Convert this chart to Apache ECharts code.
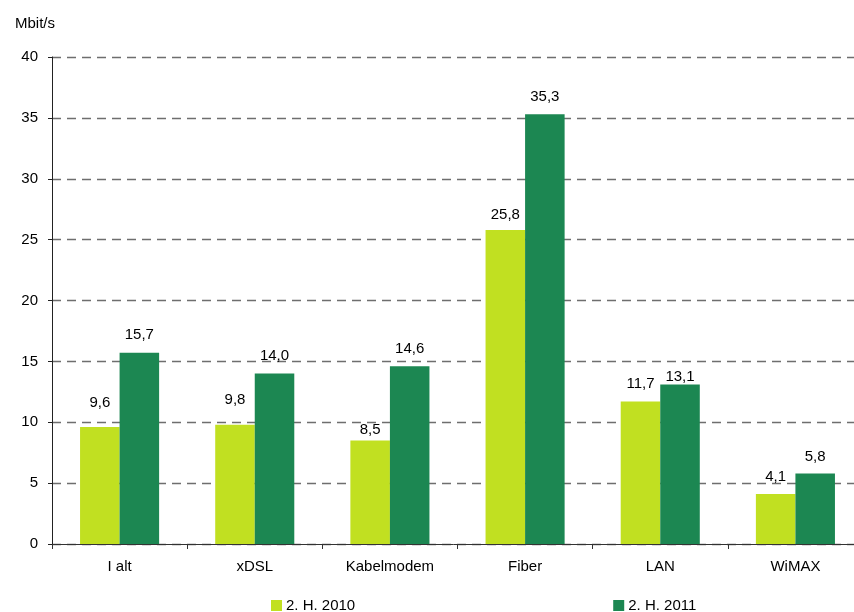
<!DOCTYPE html>
<html>
<head>
<meta charset="utf-8">
<script src="https://cdn.jsdelivr.net/npm/echarts@6/dist/echarts.min.js"></script>
<style>
  html, body { margin: 0; padding: 0; background: #ffffff; }
  #chart { width: 854px; height: 612px; }
</style>
</head>
<body>
<div id="chart"></div>
<script>
// data
const categories = ['I alt', 'xDSL', 'Kabelmodem', 'Fiber', 'LAN', 'WiMAX'];
const h2010 = [9.6, 9.8, 8.5, 25.8, 11.7, 4.1];
const h2011 = [15.7, 14.0, 14.6, 35.3, 13.1, 5.8];
const seriesNames = ['2. H. 2010', '2. H. 2011'];
const yTicks = [0, 5, 10, 15, 20, 25, 30, 35, 40];

// label gaps above bars (styling only)
const gap2010 = [17, 17, 3, 8, 10, 10];
const gap2011 = [10, 10, 10, 10, 0, 9];

const FONT = '"Liberation Sans", Arial, sans-serif';
const FS = 15;
const fmt = v => v.toFixed(1).replace('.', ',');

function withLabels(values, gaps) {
  return values.map((v, i) => ({
    value: v,
    label: { distance: gaps[i] }
  }));
}

const barLabel = {
  show: true,
  position: 'top',
  color: '#000',
  fontSize: FS,
  fontFamily: FONT,
  formatter: p => fmt(p.value)
};

const option = {
  backgroundColor: '#ffffff',
  animation: false,
  textStyle: { fontFamily: FONT },
  title: {
    text: 'Mbit/s',
    left: 10,
    top: 11,
    textStyle: { fontFamily: FONT, fontSize: FS, fontWeight: 'normal', color: '#000' }
  },
  legend: {
    left: 266,
    top: 593,
    itemWidth: 11,
    itemHeight: 11,
    itemGap: 258,
    icon: 'rect',
    textStyle: { fontFamily: FONT, fontSize: FS, color: '#000', padding: [0, 0, 0, -1] },
    data: seriesNames
  },
  grid: {
    left: 52,
    top: 57,
    width: 811,
    height: 487,
    outerBoundsMode: 'none',
    containLabel: false
  },
  xAxis: {
    type: 'category',
    data: categories,
    axisLine: { lineStyle: { color: '#333', width: 1 } },
    axisTick: { show: true, length: 5, lineStyle: { color: '#333' } },
    axisLabel: { color: '#000', fontSize: FS, margin: 15, fontFamily: FONT }
  },
  yAxis: {
    type: 'value',
    min: yTicks[0],
    max: yTicks[yTicks.length - 1],
    interval: 5,
    axisLine: { show: true, lineStyle: { color: '#222', width: 1 } },
    axisTick: { show: true, length: 4, lineStyle: { color: '#222' } },
    axisLabel: { color: '#000', fontSize: FS, margin: 14, fontFamily: FONT },
    splitLine: {
      show: true,
      lineStyle: { color: '#6e6e6e', width: 1.3, type: [9, 6] }
    }
  },
  series: [{
    name: seriesNames[0],
    type: 'bar',
    barGap: '0%',
    barCategoryGap: '41.5%',
    itemStyle: { color: '#c1e021' },
    label: barLabel,
    data: withLabels(h2010, gap2010)
  }, {
    name: seriesNames[1],
    type: 'bar',
    barGap: '0%',
    barCategoryGap: '41.5%',
    itemStyle: { color: '#1c8752' },
    label: barLabel,
    data: withLabels(h2011, gap2011)
  }]
};

const chart = echarts.init(document.getElementById('chart'));
chart.setOption(option);
</script>
</body>
</html>
